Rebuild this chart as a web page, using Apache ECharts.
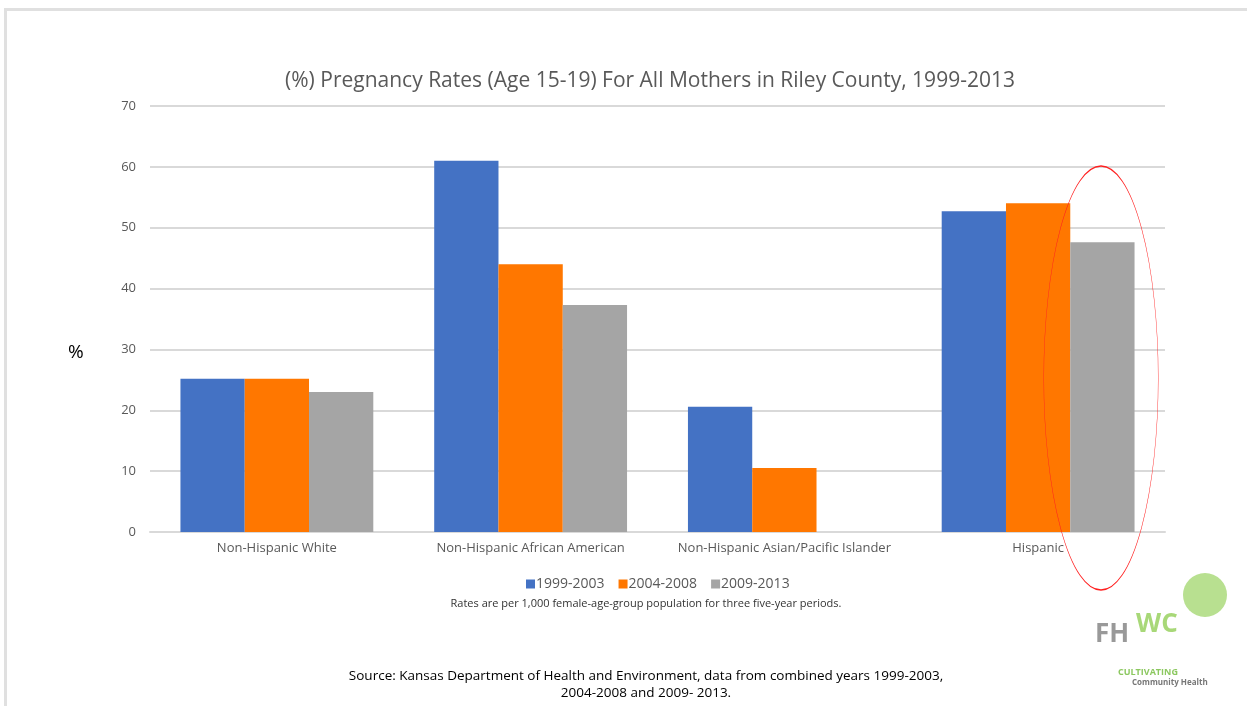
<!DOCTYPE html>
<html><head><meta charset="utf-8">
<script src="https://cdn.jsdelivr.net/npm/echarts@6/dist/echarts.min.js"></script>
<style>html,body{margin:0;padding:0;background:#fff}#c{width:1247px;height:706px}</style>
</head><body><div id="c"></div>
<script>
const categories = ['Non-Hispanic White','Non-Hispanic African American','Non-Hispanic Asian/Pacific Islander','Hispanic'];
const seriesNames = ['1999-2003','2004-2008','2009-2013'];
const s1999 = [25.2, 61.0, 20.6, 52.7];
const s2004 = [25.2, 44.0, 10.5, 54.0];
const s2009 = [23.0, 37.3, 0, 47.6];
const colors = ['#4472C4','#FF7700','#A5A5A5'];
const yTicks = {min:0, max:70, interval:10};

const chart = echarts.init(document.getElementById('c'));
const font = '"Open Sans", "Liberation Sans", sans-serif';
chart.setOption({
  animation:false,
  textStyle:{fontFamily:font},
  title:{text:'(%) Pregnancy Rates (Age 15-19) For All Mothers in Riley County, 1999-2013',
    left:645, top:66, textAlign:'center',
    textStyle:{fontSize:21, fontWeight:'normal', color:'#595959', fontFamily:font}},
  legend:{data:seriesNames, left:521, top:572, itemWidth:9, itemHeight:9, itemGap:14,
    icon:'rect', textStyle:{fontSize:14, color:'#595959', padding:[0,0,0,-4]}},
  grid:{left:150, right:82, top:106, bottom:174, containLabel:false},
  xAxis:{type:'category', data:categories,
    axisLine:{lineStyle:{color:'#d9d9d9', width:2}}, axisTick:{show:false},
    axisLabel:{fontSize:13, color:'#595959', margin:10, interval:0}},
  yAxis:{type:'value', min:yTicks.min, max:yTicks.max, interval:yTicks.interval,
    axisLabel:{fontSize:13, color:'#595959', margin:14},
    axisLine:{show:false}, axisTick:{show:false},
    splitLine:{lineStyle:{color:'#d9d9d9', width:2}}},
  series:[
    {name:seriesNames[0], type:'bar', data:s1999, itemStyle:{color:colors[0]}, barGap:'0%', barCategoryGap:'24%'},
    {name:seriesNames[1], type:'bar', data:s2004, itemStyle:{color:colors[1]}, barGap:'0%', barCategoryGap:'24%'},
    {name:seriesNames[2], type:'bar', data:s2009, itemStyle:{color:colors[2]}, barGap:'0%', barCategoryGap:'24%'}
  ],
  graphic:[
    {type:'rect', left:3, top:7, z:-1, shape:{width:1250, height:710}, style:{fill:'none', stroke:'#e0e0e0', lineWidth:3}},
    {type:'text', left:68, top:343, style:{text:'%', fill:'#000', font:'19px '+font}},
    {type:'text', x:646, y:598, style:{text:'Rates are per 1,000 female-age-group population for three five-year periods.', textAlign:'center', fill:'#333', font:'11px '+font}},
    {type:'text', x:646, y:668, style:{text:'Source: Kansas Department of Health and Environment, data from combined years 1999-2003,\n2004-2008 and 2009- 2013.', textAlign:'center', fill:'#000', font:'13.5px '+font, lineHeight:17}},
    {type:'circle', x:1101, y:378, scaleX:0.27, scaleY:1, shape:{cx:0, cy:0, r:212}, style:{fill:'none', stroke:'#ff2020', lineWidth:1.5, strokeNoScale:true}, z:100},
    {type:'circle', x:1205, y:595, shape:{r:22}, style:{fill:'#b8e090'}},
    {type:'text', x:1095, y:622, style:{text:'FH', fill:'#999', font:'bold 26px '+font}},
    {type:'text', x:1136, y:612, style:{text:'WC', fill:'#a8d878', font:'bold 26px '+font}},
    {type:'text', x:1118, y:668, style:{text:'CULTIVATING', fill:'#8cc860', font:'bold 9px '+font}},
    {type:'text', x:1132, y:679, style:{text:'Community Health', fill:'#777', font:'bold 8px '+font}}
  ]
});
</script></body></html>
